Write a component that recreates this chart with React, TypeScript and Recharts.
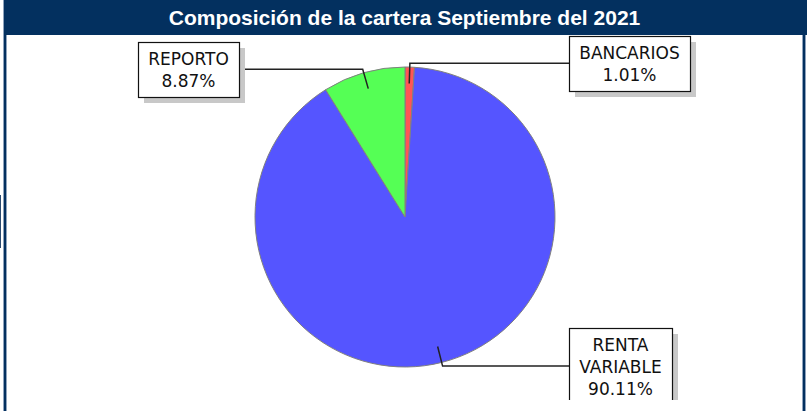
import React from 'react';
import { PieChart, Pie, Cell } from 'recharts';

const categories = ['BANCARIOS', 'RENTA VARIABLE', 'REPORTO'];
const shares = [1.01, 90.11, 8.87];
const sliceColors = ['#ff5555', '#5555ff', '#55ff55'];
const title = 'Composición de la cartera Septiembre del 2021';

const data = categories.map((name, i) => ({ name, value: shares[i] }));

const NAVY = '#03305f';
const LABEL_FONT = '17px "DejaVu Sans"';

let ctx: CanvasRenderingContext2D | null = null;
function measure(text: string) {
  if (!ctx) ctx = document.createElement('canvas').getContext('2d');
  if (!ctx) return text.length * 10;
  ctx.font = LABEL_FONT;
  return ctx.measureText(text).width;
}

// boxed label with a bent leader line, placed from the slice's mid angle
function BoxLabel(props: any) {
  const { cx, cy, midAngle, outerRadius } = props;
  const name = props.name ?? props.payload?.name;
  const value = props.value ?? props.payload?.value;
  const rad = Math.PI / 180;
  const cos = Math.cos(-midAngle * rad);
  const sin = Math.sin(-midAngle * rad);
  const ax = cx + outerRadius * 0.89 * cos;
  const ay = cy + outerRadius * 0.89 * sin;
  const ex = cx + outerRadius * 1.025 * cos;
  const ey = cy + outerRadius * 1.025 * sin;
  const right = cos >= 0;
  const bx = right ? cx + 164 : cx - 166;

  const lines = [...String(name).split(' '), `${Number(value).toFixed(2)}%`];
  const w = Math.round(Math.max(...lines.map(measure)) + 20);
  const h = lines.length * 22 + 11;
  const left = right ? bx : bx - w;
  const top = Math.round(ey - h / 2);

  return (
    <g>
      <polyline
        points={`${ax},${ay} ${ex},${ey} ${bx},${ey}`}
        fill="none"
        stroke="#222"
        strokeWidth={1.5}
      />
      <rect x={left + 6} y={top + 6} width={w} height={h} fill="#c8c8c8" />
      <rect x={left + 0.5} y={top + 0.5} width={w} height={h} fill="#fff" stroke="#111" strokeWidth={1.2} />
      {lines.map((t, i) => (
        <text
          key={i}
          x={left + w / 2}
          y={top + 23 + i * 22}
          textAnchor="middle"
          fontFamily='"DejaVu Sans", sans-serif'
          fontSize={17}
          fill="#111"
        >
          {t}
        </text>
      ))}
    </g>
  );
}

export default function App() {
  return (
    <div
      style={{
        position: 'absolute',
        left: 0,
        top: 0,
        width: 807,
        height: 411,
        background: '#fff',
        overflow: 'hidden',
      }}
    >
      <div style={{ position: 'absolute', left: 0, top: 0, width: 807, height: 400, overflow: 'hidden' }}>
        <PieChart width={807} height={400} margin={{ top: 0, right: 0, bottom: 0, left: 0 }}>
          <Pie
            data={data}
            dataKey="value"
            nameKey="name"
            cx={405}
            cy={217}
            outerRadius={150}
            startAngle={90}
            endAngle={-270}
            stroke="#808080"
            strokeWidth={1}
            label={BoxLabel}
            labelLine={false}
            isAnimationActive={false}
          >
            {data.map((d, i) => (
              <Cell key={d.name} fill={sliceColors[i]} />
            ))}
          </Pie>
        </PieChart>
      </div>

      <div
        style={{
          position: 'absolute',
          left: 3,
          top: 0,
          width: 804,
          height: 35,
          background: NAVY,
          borderLeft: '1px solid #8fa3bd',
          boxSizing: 'border-box',
          color: '#fff',
          fontFamily: '"Liberation Sans", Arial, sans-serif',
          fontWeight: 'bold',
          fontSize: 21,
          lineHeight: '35px',
          textAlign: 'center',
          paddingRight: 2,
        }}
      >
        {title}
      </div>
      <div
        style={{
          position: 'absolute',
          left: 3,
          top: 35,
          width: 4,
          height: 376,
          background: NAVY,
          borderLeft: '1px solid #8fa3bd',
          borderRight: '1px solid #8fa3bd',
          boxSizing: 'border-box',
        }}
      />
      <div
        style={{
          position: 'absolute',
          left: 802,
          top: 35,
          width: 4,
          height: 376,
          background: NAVY,
          borderLeft: '1px solid #8fa3bd',
          borderRight: '1px solid #8fa3bd',
          boxSizing: 'border-box',
        }}
      />
      <div style={{ position: 'absolute', left: 0, top: 195, width: 1, height: 53, background: '#2a4a70' }} />
    </div>
  );
}
